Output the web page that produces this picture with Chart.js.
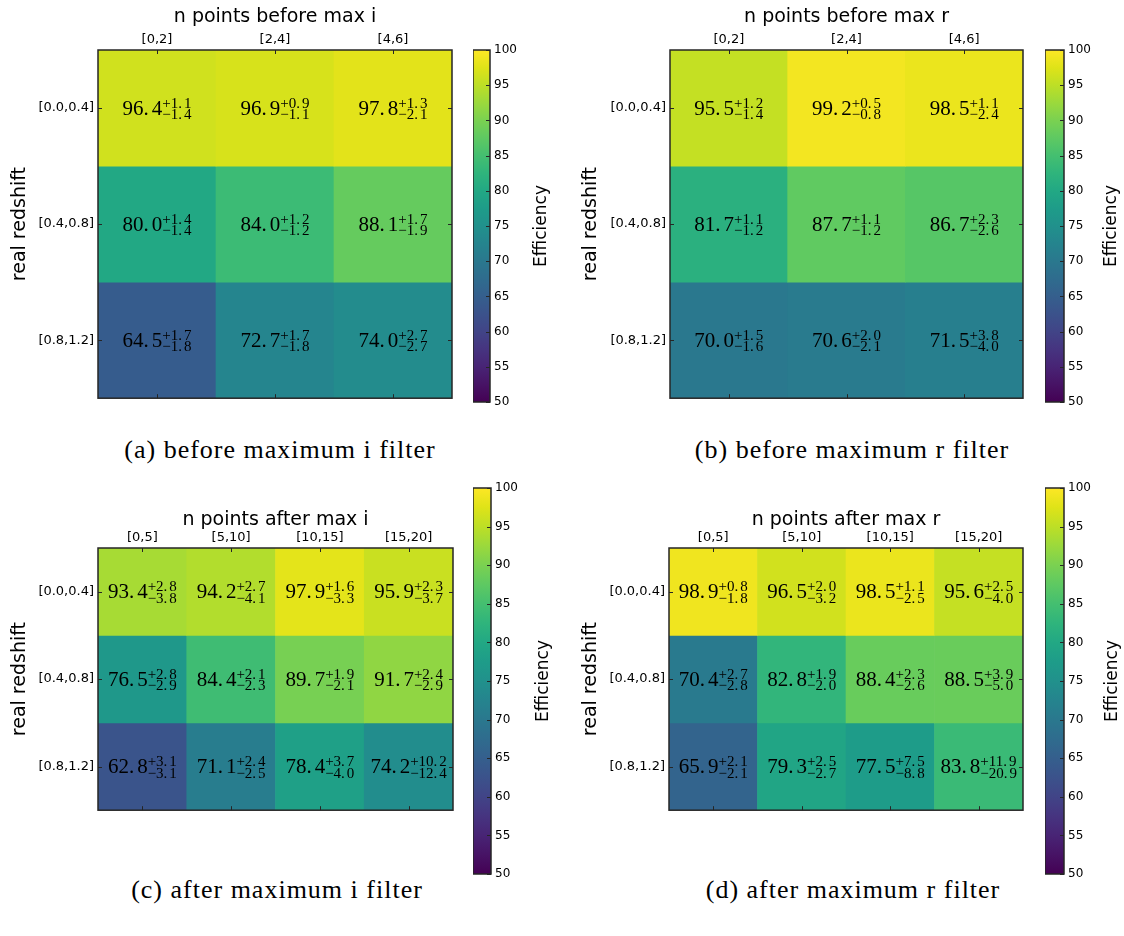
<!DOCTYPE html>
<html><head><meta charset="utf-8">
<script src="https://cdn.jsdelivr.net/npm/chart.js@4.4.1/dist/chart.umd.min.js"></script>
<style>
html,body{margin:0;padding:0;background:#fff;}
body{width:1124px;height:936px;position:relative;overflow:hidden;}
canvas{position:absolute;}
.cap{position:absolute;font-family:'Liberation Serif',serif;font-size:26px;letter-spacing:1px;color:#000;transform:translate(-50%,-50%);white-space:nowrap;}
</style></head><body>
<script>
// ---------- data ----------
const rowLabels = ['[0.0,0.4]', '[0.4,0.8]', '[0.8,1.2]'];
const colsBefore = ['[0,2]', '[2,4]', '[4,6]'];
const colsAfter = ['[0,5]', '[5,10]', '[10,15]', '[15,20]'];

const effBeforeI = [[96.4, 96.9, 97.8], [80.0, 84.0, 88.1], [64.5, 72.7, 74.0]];
const upBeforeI = [[1.1, 0.9, 1.3], [1.4, 1.2, 1.7], [1.7, 1.7, 2.7]];
const downBeforeI = [[1.4, 1.1, 2.1], [1.4, 1.2, 1.9], [1.8, 1.8, 2.7]];

const effBeforeR = [[95.5, 99.2, 98.5], [81.7, 87.7, 86.7], [70.0, 70.6, 71.5]];
const upBeforeR = [[1.2, 0.5, 1.1], [1.1, 1.1, 2.3], [1.5, 2.0, 3.8]];
const downBeforeR = [[1.4, 0.8, 2.4], [1.2, 1.2, 2.6], [1.6, 2.1, 4.0]];

const effAfterI = [[93.4, 94.2, 97.9, 95.9], [76.5, 84.4, 89.7, 91.7], [62.8, 71.1, 78.4, 74.2]];
const upAfterI = [[2.8, 2.7, 1.6, 2.3], [2.8, 2.1, 1.9, 2.4], [3.1, 2.4, 3.7, 10.2]];
const downAfterI = [[3.8, 4.1, 3.3, 3.7], [2.9, 2.3, 2.1, 2.9], [3.1, 2.5, 4.0, 12.4]];

const effAfterR = [[98.9, 96.5, 98.5, 95.6], [70.4, 82.8, 88.4, 88.5], [65.9, 79.3, 77.5, 83.8]];
const upAfterR = [[0.8, 2.0, 1.1, 2.5], [2.7, 1.9, 2.3, 3.9], [2.1, 2.5, 7.5, 11.9]];
const downAfterR = [[1.8, 3.2, 2.5, 4.0], [2.8, 2.0, 2.6, 5.0], [2.1, 2.7, 8.8, 20.9]];

const panelTitles = ['n points before max i', 'n points before max r', 'n points after max i', 'n points after max r'];
const captions = ['(a) before maximum i filter', '(b) before maximum r filter', '(c) after maximum i filter', '(d) after maximum r filter'];
const yAxisTitle = 'real redshift';
const cbarTitle = 'Efficiency';
const cbarMin = 50, cbarMax = 100, cbarStep = 5;

// viridis colormap stops (0 .. 1 in steps of 0.05)
const viridisStops = ['#440154','#471365','#482475','#463480','#414487','#3b528b','#355f8d','#2f6c8e','#2a788e','#25848e','#21918c','#1e9c89','#22a884','#2fb47c','#44bf70','#5ec962','#7ad151','#9bd93c','#bddf26','#dfe318','#fde725'];

// ---------- layout (positions only) ----------
const layouts = [
  {origin:[0,0],   box:[98,50,452,402],   titleY:17,  yTitleX:20,  cbar:[473,490,50,402],   effX:542,  cap:[280,450]},
  {origin:[562,0], box:[670,50,1023,402], titleY:17,  yTitleX:591, cbar:[1045,1064,50,402], effX:1112, cap:[852,450]},
  {origin:[0,470], box:[98,548,453,814],  titleY:520, yTitleX:20,  cbar:[473,491,488,874],  effX:544,  cap:[277,890]},
  {origin:[562,470], box:[669,548,1023,814], titleY:520, yTitleX:591, cbar:[1045,1064,488,874], effX:1113, cap:[853,890]}
];
const panelData = [
  {cols:colsBefore, eff:effBeforeI, up:upBeforeI, down:downBeforeI},
  {cols:colsBefore, eff:effBeforeR, up:upBeforeR, down:downBeforeR},
  {cols:colsAfter, eff:effAfterI, up:upAfterI, down:downAfterI},
  {cols:colsAfter, eff:effAfterR, up:upAfterR, down:downAfterR}
];

// ---------- helpers ----------
function hexToRgb(h){return [parseInt(h.slice(1,3),16),parseInt(h.slice(3,5),16),parseInt(h.slice(5,7),16)];}
function viridis(t){
  t = Math.max(0, Math.min(1, t));
  const n = viridisStops.length - 1;
  const p = t * n, i = Math.min(Math.floor(p), n - 1), f = p - i;
  const a = hexToRgb(viridisStops[i]), b = hexToRgb(viridisStops[i+1]);
  return 'rgb(' + a.map((v,k)=>Math.round(v + (b[k]-v)*f)).join(',') + ')';
}
function splitNum(s){const i = s.indexOf('.'); return [s.slice(0,i+1), s.slice(i+1)];}
function numWidth(ctx,s,gap){const [a,b]=splitNum(s); return ctx.measureText(a).width + gap + ctx.measureText(b).width;}
function drawNum(ctx,s,x,y,gap){const [a,b]=splitNum(s); ctx.fillText(a,x,y); ctx.fillText(b,x+ctx.measureText(a).width+gap,y);}

const sansFamily = "'DejaVu Sans', sans-serif";
const mainFont = "21px 'Liberation Serif'";
const scriptFont = "15px 'Liberation Serif'";
const TITLE_SIZE = 19, LH = 1.2;

function mkCanvas(x,y,w,h){
  const cv = document.createElement('canvas');
  cv.width = w; cv.height = h;
  cv.style.left = x+'px'; cv.style.top = y+'px';
  cv.style.width = w+'px'; cv.style.height = h+'px';
  document.body.appendChild(cv);
  return cv;
}

const frameColor = '#262626';
function heatFramePlugin(){
  return {id:'heatFrame', afterDraw(chart){
    const {ctx, chartArea:a, scales} = chart;
    ctx.save();
    ctx.strokeStyle = frameColor; ctx.lineWidth = 1;
    const tl = 4;
    scales.x.ticks.forEach((t,i)=>{
      const x = Math.round(scales.x.getPixelForTick(i)) + 0.5;
      ctx.beginPath(); ctx.moveTo(x,a.top); ctx.lineTo(x,a.top+tl); ctx.moveTo(x,a.bottom); ctx.lineTo(x,a.bottom-tl); ctx.stroke();
    });
    scales.y.ticks.forEach((t,i)=>{
      const y = Math.round(scales.y.getPixelForTick(i)) + 0.5;
      ctx.beginPath(); ctx.moveTo(a.left,y); ctx.lineTo(a.left+tl,y); ctx.moveTo(a.right,y); ctx.lineTo(a.right-tl,y); ctx.stroke();
    });
    ctx.lineWidth = 1.5;
    ctx.strokeRect(a.left, a.top, a.right-a.left, a.bottom-a.top);
    ctx.restore();
  }};
}
function annotPlugin(d){
  return {id:'annot', afterDatasetsDraw(chart){
    const ctx = chart.ctx, xs = chart.scales.x, ys = chart.scales.y;
    ctx.save(); ctx.fillStyle = '#000'; ctx.textAlign = 'left'; ctx.textBaseline = 'alphabetic';
    d.eff.forEach((row,r)=>row.forEach((v,c)=>{
      const cx = xs.getPixelForValue(c), cy = ys.getPixelForValue(r+0.5);
      const main = v.toFixed(1), sup = '+' + d.up[r][c].toFixed(1), sub = '\u2212' + d.down[r][c].toFixed(1);
      ctx.font = mainFont; const wm = numWidth(ctx, main, 3);
      ctx.font = scriptFont; const ws = Math.max(numWidth(ctx, sup, 2), numWidth(ctx, sub, 2));
      const x = cx - (wm + ws)/2;
      ctx.font = mainFont; drawNum(ctx, main, x, cy + 6.5, 3);
      ctx.font = scriptFont; drawNum(ctx, sup, x + wm, cy - 0.5, 2); drawNum(ctx, sub, x + wm, cy + 11, 2);
    }));
    ctx.restore();
  }};
}

function makeHeatmap(idx){
  const L = layouts[idx], d = panelData[idx];
  const [bl,bt,br,bb] = L.box, [ox,oy] = L.origin;
  const padR = 8, padB = 8;
  const W = br - ox + padR, H = bb - oy + padB;
  const cv = mkCanvas(ox, oy, W, H);
  const titleFont = {family:sansFamily, size:TITLE_SIZE, lineHeight:LH};
  const half = TITLE_SIZE*LH/2;
  new Chart(cv, {
    type:'bar',
    data:{
      labels:d.cols,
      datasets:rowLabels.map((lab,r)=>({
        label:lab,
        data:d.cols.map(()=>1),
        backgroundColor:d.eff[r].map(v=>viridis((v-cbarMin)/(cbarMax-cbarMin))),
        borderWidth:0, barPercentage:1, categoryPercentage:1, stack:'rows'
      }))
    },
    options:{
      responsive:false, animation:false, devicePixelRatio:1,
      layout:{padding:{left:0, top:0, right:padR, bottom:padB}},
      plugins:{legend:{display:false}, tooltip:{enabled:false}, title:{display:false}},
      scales:{
        x:{type:'category', position:'top', stacked:true, offset:true,
          grid:{display:false, drawTicks:false}, border:{display:false},
          ticks:{font:{family:sansFamily, size:13, lineHeight:1.2}, color:'#000', padding:3, maxRotation:0, autoSkip:false},
          title:{display:true, text:panelTitles[idx], font:titleFont, color:'#000', padding:{top:L.titleY - oy - half, bottom:0}},
          afterFit:(s)=>{s.height = bt - oy;}
        },
        y:{type:'linear', min:0, max:rowLabels.length, reverse:true, stacked:true,
          grid:{display:false, drawTicks:false}, border:{display:false},
          afterBuildTicks:(s)=>{s.ticks = rowLabels.map((_,i)=>({value:i+0.5}));},
          ticks:{callback:(v,i)=>rowLabels[i], font:{family:sansFamily, size:13}, color:'#000', padding:4, autoSkip:false},
          title:{display:true, text:yAxisTitle, font:titleFont, color:'#000', padding:{top:L.yTitleX - ox - half, bottom:0}},
          afterFit:(s)=>{s.width = bl - ox;}
        }
      }
    },
    plugins:[annotPlugin(d), heatFramePlugin()]
  });
}

function cbarGradient(chart){
  const a = chart.chartArea;
  if(!a) return viridisStops[10];
  const ys = chart.scales.y;
  const g = chart.ctx.createLinearGradient(0, ys.getPixelForValue(cbarMin), 0, ys.getPixelForValue(cbarMax));
  viridisStops.forEach((c,i)=>g.addColorStop(i/(viridisStops.length-1), c));
  return g;
}
function cbarPlugin(L){
  return {id:'cbarFrame', afterDraw(chart){
    const {ctx, chartArea:a, scales} = chart;
    ctx.save();
    ctx.strokeStyle = frameColor; ctx.lineWidth = 1;
    scales.y.ticks.forEach((t,i)=>{
      const y = Math.round(scales.y.getPixelForTick(i)) + 0.5;
      ctx.beginPath(); ctx.moveTo(a.right,y); ctx.lineTo(a.right-4,y); ctx.stroke();
    });
    ctx.lineWidth = 1.5;
    ctx.strokeRect(a.left, a.top, a.right-a.left, a.bottom-a.top);
    // colorbar label, reading bottom-to-top
    ctx.fillStyle = '#000';
    ctx.font = "17px " + sansFamily;
    ctx.textAlign = 'center'; ctx.textBaseline = 'middle';
    ctx.translate(L.effX - L.cbar[0], (a.top + a.bottom)/2);
    ctx.rotate(-Math.PI/2);
    ctx.fillText(chart.options.scales.y.title.text, 0, 0);
    ctx.restore();
  }};
}
function makeCbar(idx){
  const L = layouts[idx];
  const [cl,cr,ct,cb] = L.cbar;
  const pad = 12;
  const W = (idx % 2 === 0) ? 562 - cl : 1124 - cl;
  const cv = mkCanvas(cl, ct - pad, W, (cb - ct) + 2*pad);
  new Chart(cv, {
    type:'bar',
    data:{labels:[cbarTitle], datasets:[{data:[[cbarMin, cbarMax]], backgroundColor:(c)=>cbarGradient(c.chart), borderWidth:0, barPercentage:1, categoryPercentage:1}]},
    options:{
      responsive:false, animation:false, devicePixelRatio:1,
      layout:{padding:{left:0, right:0, top:pad, bottom:pad}},
      plugins:{legend:{display:false}, tooltip:{enabled:false}},
      scales:{
        x:{display:false, offset:true},
        y:{position:'right', min:cbarMin, max:cbarMax,
          grid:{display:false, drawTicks:false}, border:{display:false},
          ticks:{stepSize:cbarStep, font:{family:sansFamily, size:12}, color:'#000', padding:4},
          title:{display:false, text:cbarTitle},
          afterFit:(s)=>{s.width = W - (cr - cl);}
        }
      }
    },
    plugins:[cbarPlugin(L)]
  });
}

for (let i = 0; i < 4; i++) {
  makeHeatmap(i);
  makeCbar(i);
  const cap = document.createElement('div');
  cap.className = 'cap';
  cap.textContent = captions[i];
  cap.style.left = layouts[i].cap[0] + 'px';
  cap.style.top = layouts[i].cap[1] + 'px';
  document.body.appendChild(cap);
}
</script>
</body></html>
